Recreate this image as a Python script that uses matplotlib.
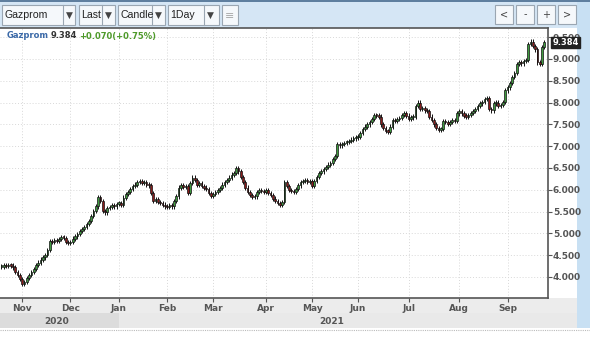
import numpy as np
import matplotlib
matplotlib.use("Agg")
from matplotlib import pyplot as plt
from matplotlib.patches import Rectangle

# daily closes, Gazprom, late Oct 2020 -> mid Sep 2021
closes = [
    4.24, 4.27, 4.25, 4.28, 4.26, 4.22, 4.12, 4.05, 3.95, 3.84,
    3.88, 3.97, 4.05, 4.12, 4.18, 4.27, 4.33, 4.40, 4.45, 4.50,
    4.62, 4.83, 4.80, 4.85, 4.82, 4.87, 4.92, 4.90, 4.80, 4.78,
    4.80, 4.88, 4.93, 4.98, 5.05, 5.10, 5.15, 5.22, 5.28, 5.40,
    5.52, 5.62, 5.83, 5.75, 5.52, 5.48, 5.58, 5.60, 5.64, 5.62,
    5.68, 5.70, 5.66, 5.82, 5.90, 5.95, 6.02, 6.08, 6.12, 6.18,
    6.20, 6.15, 6.18, 6.12, 6.10, 5.93, 5.75, 5.78, 5.72, 5.70,
    5.66, 5.62, 5.60, 5.64, 5.62, 5.75, 5.85, 6.05, 6.10, 6.06,
    6.08, 5.93, 6.15, 6.28, 6.22, 6.12, 6.15, 6.08, 6.05, 6.02,
    5.92, 5.86, 5.90, 5.95, 6.00, 6.04, 6.12, 6.18, 6.22, 6.28,
    6.35, 6.38, 6.50, 6.42, 6.29, 6.18, 6.05, 5.95, 5.88, 5.83,
    5.85, 5.95, 6.00, 5.97, 5.95, 6.00, 5.93, 5.88, 5.80, 5.75,
    5.70, 5.66, 5.72, 6.18, 6.08, 6.00, 5.97, 5.95, 6.02, 6.10,
    6.18, 6.20, 6.22, 6.18, 6.20, 6.08, 6.20, 6.30, 6.38, 6.42,
    6.48, 6.52, 6.58, 6.62, 6.70, 6.78, 7.05, 7.02, 7.05, 7.08,
    7.10, 7.12, 7.15, 7.18, 7.20, 7.22, 7.30, 7.40, 7.45, 7.50,
    7.55, 7.62, 7.72, 7.70, 7.68, 7.50, 7.42, 7.35, 7.33, 7.45,
    7.60, 7.58, 7.62, 7.65, 7.72, 7.76, 7.70, 7.62, 7.66, 7.68,
    7.92, 8.00, 7.85, 7.88, 7.82, 7.80, 7.68, 7.60, 7.50, 7.42,
    7.38, 7.40, 7.58, 7.55, 7.52, 7.56, 7.60, 7.58, 7.75, 7.80,
    7.75, 7.70, 7.68, 7.72, 7.76, 7.80, 7.85, 7.92, 7.98, 8.02,
    8.08, 8.10, 7.85, 7.82, 7.98, 8.00, 7.92, 7.95, 8.02, 8.28,
    8.35, 8.45, 8.58, 8.68, 8.88, 8.92, 8.90, 8.95, 8.98, 9.35,
    9.40, 9.30, 9.22, 8.92, 8.88, 9.28, 9.384,
]
month_labels = ["Nov", "Dec", "Jan", "Feb", "Mar", "Apr", "May", "Jun", "Jul", "Aug", "Sep"]
month_idx = [9, 30, 51, 72, 92, 115, 135, 155, 177, 199, 220]
y_ticks = [4.0, 4.5, 5.0, 5.5, 6.0, 6.5, 7.0, 7.5, 8.0, 8.5, 9.0, 9.5]
years = ["2020", "2021"]
last_price = 9.384
change = 0.070
change_pct = 0.75
wick = 0.05  # typical shadow length beyond body

W, H = 590, 337
fig = plt.figure(figsize=(W / 100, H / 100), dpi=100)
fig.patch.set_facecolor("white")

# background layer in pixel coords
bg = fig.add_axes([0, 0, 1, 1])
bg.set_xlim(0, W)
bg.set_ylim(H, 0)
bg.axis("off")

def rect(x, y, w, h, fc, ec="none", lw=0.8, z=1):
    bg.add_patch(Rectangle((x, y), w, h, facecolor=fc, edgecolor=ec, linewidth=lw, zorder=z))

# toolbar
rect(0, 0, W, 28, "#d5e6f5")
rect(0, 0, W, 1.5, "#5f7f9f", z=2)
rect(577, 0, 13, 328, "#c8e0f3")
for x0, w, txt, arrow_x in [(2, 73, "Gazprom", 63), (79, 36, "Last", 102),
                            (118, 47, "Candle", 152), (168, 51, "1Day", 204)]:
    rect(x0, 5, w, 20, "#f5f8fb", "#9aa6b2", z=2)
    bg.plot([arrow_x, arrow_x], [5, 25], color="#9aa6b2", lw=0.8, zorder=3)
    bg.text(x0 + 2.5, 15.5, txt, fontsize=7.6, family="Liberation Sans", color="#222222", va="center", zorder=3)
    bg.text(arrow_x + 6.5, 15.5, "\u25bc", fontsize=6.5, color="#444444", ha="center", va="center", zorder=3)
rect(222, 5, 16, 20, "#f5f8fb", "#9aa6b2", z=2)
bg.text(230, 15.5, "\u2261", fontsize=8, color="#aaaaaa", ha="center", va="center", zorder=3)
for x0, s in [(495, "<"), (516, "-"), (537, "+"), (558, ">")]:
    rect(x0, 5, 18, 19, "#f5f8fb", "#9aa6b2", z=2)
    bg.text(x0 + 9, 14.5, s, fontsize=7, color="#444444", ha="center", va="center", zorder=3)

# bottom date bands
rect(0, 298, 577, 15, "#ececec")
rect(0, 313, 577, 15, "#e9e9e9")
rect(0, 313, 119, 15, "#dcdcdc")
bg.plot([0, W], [330, 330], color="#bbbbbb", lw=0.8, ls=(0, (1, 1)), zorder=2)
bg.text(57, 321, years[0], fontsize=6.5, color="#555555", ha="center", va="center", weight="bold")
bg.text(332, 322, years[1], fontsize=6.5, color="#555555", ha="center", va="center", weight="bold")

# main price axes
ax = fig.add_axes([0, 1 - 298 / H, 548 / W, 270 / H])
ax.set_facecolor("white")
n = len(closes)
x = np.arange(n)
c = np.array(closes)
o = np.concatenate([[c[0]], c[:-1]])
up = c >= o
bottoms = np.minimum(o, c)
tops = np.maximum(o, c)
heights = np.maximum(tops - bottoms, 0.03)
ax.vlines(x, bottoms - wick, tops + wick, color="#111111", lw=0.7, zorder=2)
ax.bar(x[up], heights[up], bottom=bottoms[up], width=0.75, color="#3f9a3f",
       edgecolor="#111111", linewidth=0.5, zorder=3)
ax.bar(x[~up], heights[~up], bottom=bottoms[~up], width=0.75, color="#8a1c1c",
       edgecolor="#111111", linewidth=0.5, zorder=3)

ax.set_xlim(-0.65, 237.6)
ax.set_ylim(3.518, 9.711)
ax.set_xticks(month_idx)
ax.set_xticklabels(month_labels)
ax.set_yticks(y_ticks)
ax.set_yticklabels(["%.3f" % v for v in y_ticks])
ax.yaxis.tick_right()
ax.tick_params(axis="both", labelsize=6.5, colors="#555555", length=3, width=0.8, pad=1)
ax.tick_params(axis="y", pad=0.5)
for lab in ax.get_xticklabels() + ax.get_yticklabels():
    lab.set_fontweight("bold")
ax.grid(True, color="#d8d8d8", lw=0.7, ls=(0, (1, 2)))
ax.set_axisbelow(True)
for side in ["top", "right", "bottom"]:
    ax.spines[side].set_color("#555555")
    ax.spines[side].set_linewidth(1.2)
ax.spines["left"].set_visible(False)

# last price marker
ax.annotate("%.3f" % last_price, xy=(1.0, last_price), xycoords=("axes fraction", "data"),
            xytext=(3, 0), textcoords="offset points", fontsize=6, color="white",
            weight="bold", va="center", ha="left",
            bbox=dict(boxstyle="square,pad=0.15", fc="#222222", ec="#222222"),
            annotation_clip=False)

bg.set_zorder(0)
ax.set_zorder(1)

# header text on top layer
top = fig.add_axes([0, 0, 1, 1])
top.set_xlim(0, W)
top.set_ylim(H, 0)
top.axis("off")
top.set_zorder(2)
t1 = top.text(7, 36, "Gazprom", fontsize=6.0, color="#3c6aa8", weight="bold", va="center")
t2 = top.annotate("%.3f" % last_price, xy=(1, 0.5), xycoords=t1, xytext=(1.5, 0),
                  textcoords="offset points", fontsize=6.0, color="#333333", weight="bold",
                  va="center", ha="left")
t3 = top.annotate("+%.3f(+%.2f%%)" % (change, change_pct), xy=(1, 0.5), xycoords=t2,
                  xytext=(1.5, 0), textcoords="offset points", fontsize=6.0, color="#4e9a2a",
                  weight="bold", va="center", ha="left")

fig.savefig("out.png", dpi=100)
